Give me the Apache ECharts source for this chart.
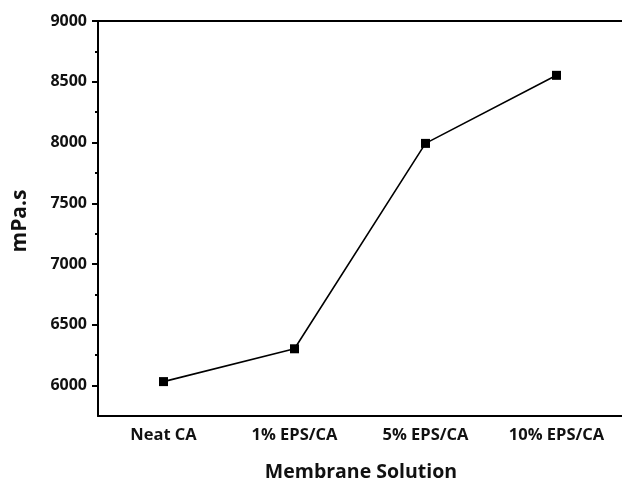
<!DOCTYPE html>
<html>
<head>
<meta charset="utf-8">
<script src="https://cdn.jsdelivr.net/npm/echarts@6/dist/echarts.min.js"></script>
<style>html,body{margin:0;padding:0;background:#fff}#c{width:622px;height:483px}</style>
</head>
<body>
<div id="c"></div>
<script>
const categories = ["Neat CA", "1% EPS/CA", "5% EPS/CA", "10% EPS/CA"];
const viscosity = [6033, 6303, 7993, 8553];
const yMajorTicks = [6000, 6500, 7000, 7500, 8000, 8500, 9000];
const yMinorTicks = [6250, 6750, 7250, 7750, 8250, 8750];
const xTitle = "Membrane Solution";
const yTitle = "mPa.s";

const FONT = "Open Sans";
const chart = echarts.init(document.getElementById('c'));
chart.setOption({
  animation: false,
  backgroundColor: '#fff',
  grid: { left: 98, right: 0, top: 21, bottom: 67 },
  xAxis: [
    {
      type: 'category', data: categories, boundaryGap: true,
      axisLine: { lineStyle: { color: '#000', width: 2 } },
      axisTick: { alignWithLabel: true, length: 6, lineStyle: { color: '#000', width: 2 } },
      axisLabel: { color: '#111', fontFamily: FONT, fontWeight: 'bold', fontSize: 16.5, margin: 11 },
      splitLine: { show: false }
    },
    {
      type: 'category', data: categories, boundaryGap: true, position: 'bottom',
      axisLine: { show: false },
      axisTick: { alignWithLabel: false, length: 3, lineStyle: { color: '#000', width: 2 } },
      axisLabel: { show: false }, splitLine: { show: false }
    },
    {
      type: 'category', data: categories, position: 'top',
      axisLine: { lineStyle: { color: '#000', width: 2 } },
      axisTick: { show: false }, axisLabel: { show: false }, splitLine: { show: false }
    }
  ],
  yAxis: [
    {
      type: 'value', min: 5750, max: 9000,
      axisLine: { show: true, lineStyle: { color: '#000', width: 2 } },
      axisTick: { show: true, length: 6, customValues: yMajorTicks, lineStyle: { color: '#000', width: 2 } },
      axisLabel: { customValues: yMajorTicks, formatter: v => String(v), color: '#111', fontFamily: FONT, fontWeight: 'bold', fontSize: 16, margin: 11 },
      splitLine: { show: false }
    },
    {
      type: 'value', min: 5750, max: 9000, position: 'left',
      axisLine: { show: false },
      axisTick: { show: true, length: 3, customValues: yMinorTicks, lineStyle: { color: '#000', width: 2 } },
      axisLabel: { show: false, customValues: yMinorTicks },
      splitLine: { show: false }
    }
  ],
  graphic: [
    { type: 'text', x: 361, y: 472, style: { text: xTitle, fill: '#111', font: 'bold 19.5px "' + FONT + '"', textAlign: 'center', textVerticalAlign: 'middle' } },
    { type: 'text', x: 20, y: 221, rotation: Math.PI / 2, style: { text: yTitle, fill: '#111', font: 'bold 21px "' + FONT + '"', textAlign: 'center', textVerticalAlign: 'middle' } }
  ],
  series: [{
    type: 'line', data: viscosity, xAxisIndex: 0, yAxisIndex: 0,
    symbol: 'rect', symbolSize: 9,
    lineStyle: { color: '#000', width: 1.6 },
    itemStyle: { color: '#000' }
  }]
});
</script>
</body>
</html>
